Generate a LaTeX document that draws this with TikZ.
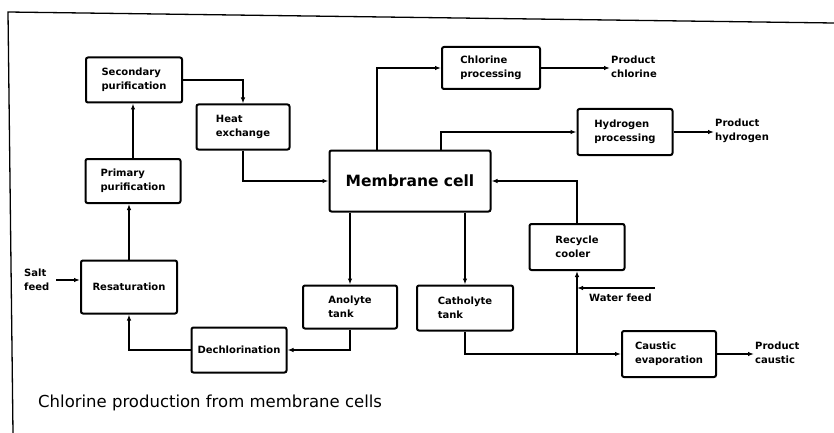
\documentclass[tikz,border=0pt]{standalone}
\usepackage{fontspec}
\setmainfont{DejaVu Sans}
\usetikzlibrary{arrows.meta}
\begin{document}
\begin{tikzpicture}[x=1pt,y=-1pt,
  box/.style={draw,line width=2pt,rounded corners=2pt,inner sep=2pt,
    font=\bfseries\fontsize{10}{14}\selectfont,align=left},
  lbl/.style={inner sep=1pt,font=\bfseries\fontsize{10}{14}\selectfont,align=left},
  arr/.style={line width=1.8pt,-{Latex[length=6pt,width=4.5pt]}}]
\useasboundingbox (0,0) rectangle (834,433);
\draw[line width=1.3pt] (13,433) -- (8,12) -- (834,23);
% boxes
\node[box,minimum width=96pt,minimum height=45pt] (sec) at (134,80) {Secondary\\purification};
\node[box,minimum width=93pt,minimum height=45pt] (heat) at (243,127) {Heat\\exchange};
\node[box,minimum width=95pt,minimum height=44pt] (prim) at (133,181) {Primary\\purification};
\node[box,minimum width=96pt,minimum height=53pt] (resat) at (129,287) {Resaturation};
\node[box,minimum width=95pt,minimum height=45pt] (dechl) at (239,350) {Dechlorination};
\node[box,minimum width=94pt,minimum height=43pt] (anol) at (350,307) {Anolyte\\tank};
\node[box,minimum width=161pt,minimum height=61pt,font=\bfseries\fontsize{15.5}{18}\selectfont] (mem) at (410,181) {Membrane cell};
\node[box,minimum width=98pt,minimum height=42pt] (chlp) at (491,68) {Chlorine\\processing};
\node[box,minimum width=95pt,minimum height=46pt] (hydp) at (625,132) {Hydrogen\\processing};
\node[box,minimum width=95pt,minimum height=46pt] (recy) at (577,247) {Recycle\\cooler};
\node[box,minimum width=96pt,minimum height=45pt] (cath) at (465,308) {Catholyte\\tank};
\node[box,minimum width=94pt,minimum height=46pt] (caus) at (669,354) {Caustic\\evaporation};
% free labels
\node[lbl,anchor=west] (salt) at (23,280) {Salt\\feed};
\node[lbl,anchor=west] (pcl) at (610,67) {Product\\chlorine};
\node[lbl,anchor=west] (phy) at (714,131) {Product\\hydrogen};
\node[lbl,anchor=west] (pca) at (754,353) {Product\\caustic};
\node[lbl,anchor=west] (wtx) at (588,298) {Water feed};
\node[anchor=west,inner sep=0pt,font=\fontsize{16.5}{19}\selectfont] (cap) at (38,403) {Chlorine production from membrane cells};
% connectors
\draw[arr] (sec.east) -| (heat.north);
\draw[arr] (prim.north) -- (prim.north |- sec.south);
\draw[arr] (resat.north) -- (resat.north |- prim.south);
\draw[arr] ([xshift=6pt]salt.east) -- (salt.east -| resat.west);
\draw[arr] (dechl.west) -| (resat.south);
\draw[arr] (anol.south) |- (dechl.east);
\draw[arr] (mem.south -| anol.north) -- (anol.north);
\draw[arr] (heat.south) |- (mem.west);
\draw[arr] ([xshift=48.5pt]mem.north west) |- (chlp.west);
\draw[arr] ([xshift=112.5pt]mem.north west) |- (hydp.west);
\draw[arr] (chlp.east) -- (chlp.east -| pcl.west);
\draw[arr] (hydp.east) -- (hydp.east -| phy.west);
\draw[arr] (mem.south -| cath.north) -- (cath.north);
\draw[arr] (recy.north) |- (mem.east);
\draw[arr] (cath.south) |- (caus.west);
\coordinate (j) at (recy.south |- caus.west);
\draw[arr] (j) -- (recy.south);
\coordinate (wf) at (655,288);
\draw[arr] (wf) -- (wf -| recy.south);
\draw[arr] (caus.east) -- (caus.east -| pca.west);
\end{tikzpicture}
\end{document}
